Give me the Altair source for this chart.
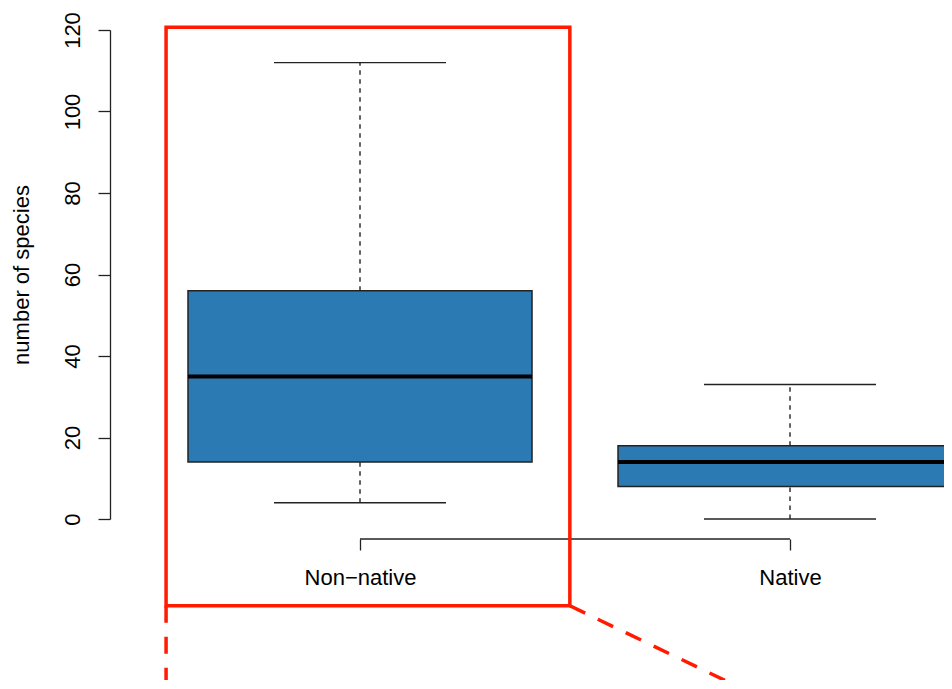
import altair as alt
import pandas as pd

# ---- data ----
groups = ["Non\u2212native", "Native"]
positions = [1, 2]
whisker_low = [4, 0]
q1 = [14, 8]
median = [35, 14]
q3 = [56, 18]
whisker_high = [112, 33]

y_ticks = [0, 20, 40, 60, 80, 100, 120]

# zoom-box annotation (data units)
zoom_box_x = [0.549, 1.488]
zoom_box_y = [-21.3, 120.7]
connector_x = [0.549, 1.488]
connector_x2 = [0.549, 1.892]
connector_y = [-21.3, -21.3]
connector_y2 = [-41.8, -41.8]

BOX_HALF = 0.4
CAP_HALF = 0.2
FONT = "Liberation Sans"
BLUE = "#2c7ab4"
RED = "#ff1a00"

df = pd.DataFrame(dict(group=groups, pos=positions, lo=whisker_low, q1=q1,
                       med=median, q3=q3, hi=whisker_high))
ann_box = pd.DataFrame(dict(x1=[zoom_box_x[0]], x2=[zoom_box_x[1]],
                            y1=[zoom_box_y[0]], y2=[zoom_box_y[1]]))
ann_lines = pd.DataFrame(dict(x1=connector_x, x2=connector_x2,
                              y1=connector_y, y2=connector_y2))

# plot area spans page x 110..944 ; 1 -> 360, 2 -> 790 (430 px per unit)
xscale = alt.Scale(domain=[0.4186, 2.3581], nice=False, zero=False)
yscale = alt.Scale(domain=[0, 120], nice=False, zero=False)

label_expr = "[" + ",".join('"%s"' % g for g in groups) + "][datum.value - 1]"
xaxis = alt.Axis(values=positions, labelExpr=label_expr, offset=20, domain=False,
                 tickSize=11, grid=False, labelFontSize=22, labelPadding=17,
                 labelFont=FONT, labelColor="black", tickColor="#222",
                 tickWidth=1.3, title=None)
yaxis = alt.Axis(values=y_ticks, tickSize=12, grid=False, labelAngle=270,
                 labelAlign="center", labelBaseline="bottom", labelPadding=14,
                 labelFontSize=22, labelFont=FONT, labelColor="black",
                 domainColor="#222", domainWidth=1.3, tickColor="#222",
                 tickWidth=1.3, title="number of species", titleFontSize=22,
                 titleFont=FONT, titleFontWeight="normal", titleColor="black",
                 titlePadding=28)


def X(field):
    return alt.X(field, type="quantitative", scale=xscale, axis=xaxis, title=None)


def Y(field):
    return alt.Y(field, type="quantitative", scale=yscale, axis=yaxis,
                 title="number of species")


base = alt.Chart(df).transform_calculate(
    bx1="datum.pos - %f" % BOX_HALF,
    bx2="datum.pos + %f" % BOX_HALF,
    cx1="datum.pos - %f" % CAP_HALF,
    cx2="datum.pos + %f" % CAP_HALF,
)

whisk_hi = base.mark_rule(color="#222", strokeWidth=1.4, strokeDash=[4.5, 4.5]).encode(
    x=X("pos"), y=Y("q3"), y2="hi:Q")
whisk_lo = base.mark_rule(color="#222", strokeWidth=1.4, strokeDash=[4.5, 4.5]).encode(
    x=X("pos"), y=Y("lo"), y2="q1:Q")
cap_hi = base.mark_rule(color="#222", strokeWidth=1.4).encode(
    x=X("cx1"), x2="cx2:Q", y=Y("hi"))
cap_lo = base.mark_rule(color="#222", strokeWidth=1.4).encode(
    x=X("cx1"), x2="cx2:Q", y=Y("lo"))
boxes = base.mark_rect(fill=BLUE, stroke="#222", strokeWidth=1.5).encode(
    x=X("bx1"), x2="bx2:Q", y=Y("q1"), y2="q3:Q")
medians = base.mark_rule(color="black", strokeWidth=4).encode(
    x=X("bx1"), x2="bx2:Q", y=Y("med"))
axis_line = base.transform_aggregate(
    pmin="min(pos)", pmax="max(pos)"
).mark_rule(color="#222", strokeWidth=1.3).encode(
    x=X("pmin"), x2="pmax:Q", y=alt.value(509))

zoom_rect = alt.Chart(ann_box).mark_rect(fillOpacity=0, stroke=RED, strokeWidth=3.5).encode(
    x=X("x1"), x2="x2:Q", y=Y("y1"), y2="y2:Q")
connectors = alt.Chart(ann_lines).mark_rule(color=RED, strokeWidth=3.5,
                                            strokeDash=[17, 14]).encode(
    x=X("x1"), x2="x2:Q", y=Y("y1"), y2="y2:Q")

chart = alt.layer(
    whisk_hi, whisk_lo, cap_hi, cap_lo, boxes, medians, axis_line, connectors, zoom_rect
).properties(
    width=834, height=489,
    background="white",
    autosize=alt.AutoSizeParams(type="none"),
    padding={"left": 102, "top": 22, "right": 0, "bottom": 161},
).configure_view(stroke=None)

chart.save("out.html", embed_options={"renderer": "svg", "actions": False})
